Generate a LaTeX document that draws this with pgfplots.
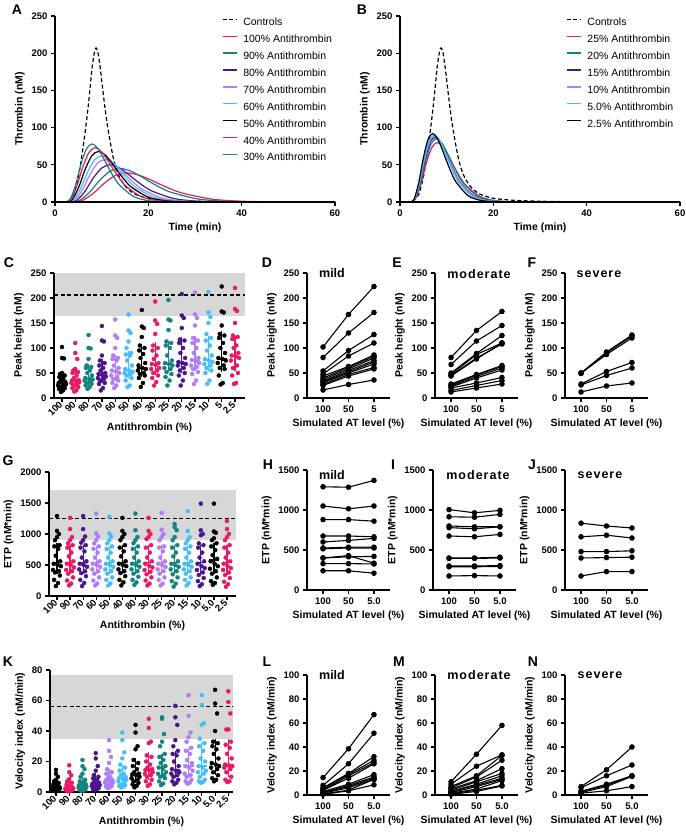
\documentclass[border=0pt]{standalone}
\usepackage{fontspec}
\setmainfont{Liberation Sans}
\newfontfamily\spaced[LetterSpace=8]{Liberation Sans}
\usepackage{pgfplots}
\usepackage{pgfplotstable}
\pgfplotsset{compat=1.18}

\definecolor{atpink}{RGB}{232,25,100}
\definecolor{atteal}{RGB}{20,130,125}
\definecolor{atpurple}{RGB}{75,20,140}
\definecolor{atlav}{RGB}{175,125,245}
\definecolor{atblue}{RGB}{70,190,245}
\definecolor{shade}{RGB}{215,215,215}

% column colours, C and K panels
\colorlet{cc0}{black}\colorlet{cc1}{atpink}\colorlet{cc2}{atteal}\colorlet{cc3}{atpurple}
\colorlet{cc4}{atlav}\colorlet{cc5}{atblue}\colorlet{cc6}{black}\colorlet{cc7}{atpink}
\colorlet{cc8}{atteal}\colorlet{cc9}{atpurple}\colorlet{cc10}{atlav}\colorlet{cc11}{atblue}
\colorlet{cc12}{black}\colorlet{cc13}{atpink}
% column colours, G panel
\colorlet{cg0}{black}\colorlet{cg1}{atpink}\colorlet{cg2}{atpurple}\colorlet{cg3}{atlav}
\colorlet{cg4}{atblue}\colorlet{cg5}{black}\colorlet{cg6}{atteal}\colorlet{cg7}{atpink}
\colorlet{cg8}{atlav}\colorlet{cg9}{atteal}\colorlet{cg10}{atblue}\colorlet{cg11}{atpurple}
\colorlet{cg12}{black}\colorlet{cg13}{atpink}

% ---- scatter data: one row per AT level, d = horizontal spread ----
\pgfplotstableread{
c p1 p2 p3 p4 p5 p6 p7 p8 p9 p10 p11 p12 p13 p14 p15 p16 p17 p18 p19 p20
d 0 0 0.15 0 -0.15 0.2 -0.2 0.1 -0.1 0.25 -0.25 0.05 0.3 -0.3 0.15 -0.15 0.22 -0.22 0.08 -0.08
k0 102 80 79 50 48 45 42 38 35 32 30 29 28 25 24 22 20 18 15 12
k1 110 90 78 58 55 52 50 45 40 36 35 34 32 30 28 26 22 20 15 13
k2 126 100 99 78 65 62 60 55 50 45 40 38 37 35 32 30 28 25 22 18
k3 144 115 113 85 75 70 65 60 55 50 48 45 43 40 38 35 30 28 20 15
k4 157 125 120 100 85 80 78 75 65 60 55 53 50 45 42 38 35 30 25 20
k5 167 135 130 113 100 90 87 85 75 65 58 55 52 50 48 45 40 35 25 22
k6 176 143 140 122 105 100 95 88 80 70 65 60 58 55 50 48 45 40 30 22
k7 193 155 148 128 105 100 95 85 78 70 68 66 60 58 55 50 45 40 32 25
k8 196 157 155 136 113 110 105 100 85 75 70 68 65 60 58 52 48 42 35 25
k9 208 165 160 140 117 115 110 100 90 80 72 70 68 65 60 55 50 45 35 25
k10 211 167 160 145 120 115 110 100 90 80 76 74 70 65 62 58 52 48 35 28
k11 212 171 162 150 128 120 115 105 95 85 78 75 72 68 65 60 55 50 35 28
k12 223 173 171 145 128 125 120 110 100 90 80 78 75 70 65 60 58 45 30 27
k13 220 178 174 150 125 122 118 105 100 90 85 83 80 75 65 60 50 45 30 28
}\rawC
\pgfplotstabletranspose[colnames from=c]{\tC}{\rawC}

\pgfplotstableread{
c p1 p2 p3 p4 p5 p6 p7 p8 p9 p10 p11 p12 p13 p14 p15 p16 p17 p18 p19 p20
d 0 0 0.15 0 -0.15 0.2 -0.2 0.1 -0.1 0.25 -0.25 0.05 0.3 -0.3 0.15 -0.15 0.22 -0.22 0.08 -0.08
k0 1290 1050 1000 950 900 820 800 760 650 560 520 500 480 420 400 380 330 260 210 160
k1 1260 1080 950 900 850 820 780 700 640 560 520 500 460 420 400 360 300 250 200 170
k2 1290 1080 960 900 860 820 780 720 620 560 520 500 470 430 400 370 320 260 210 160
k3 1330 1010 960 900 850 800 760 700 620 560 520 500 470 430 400 360 300 250 200 170
k4 1280 1010 960 900 850 800 760 700 620 560 520 500 470 430 400 360 300 260 200 170
k5 1260 1050 1000 950 900 820 780 720 640 560 520 500 480 430 400 370 320 260 220 170
k6 1330 1060 950 900 850 800 760 700 620 560 520 500 470 430 400 360 310 260 220 180
k7 1260 1050 1000 950 920 820 780 700 620 560 520 490 460 420 390 350 300 250 200 170
k8 1340 1070 1000 950 900 800 780 720 620 560 520 500 470 430 400 360 300 260 200 170
k9 1160 1110 1060 950 900 820 780 700 640 560 520 500 470 430 400 350 300 240 200 150
k10 1370 1050 950 900 850 800 760 700 620 560 520 500 470 430 400 360 300 260 210 170
k11 1490 1060 1000 980 850 820 780 700 620 560 520 480 450 420 380 340 290 240 190 160
k12 1490 1040 1020 930 900 850 800 740 660 600 560 520 480 440 400 360 300 240 210 180
k13 1210 1080 1000 950 900 820 780 700 620 560 520 480 450 420 380 340 290 230 190 150
}\rawG
\pgfplotstabletranspose[colnames from=c]{\tG}{\rawG}

\pgfplotstableread{
c p1 p2 p3 p4 p5 p6 p7 p8 p9 p10 p11 p12 p13 p14 p15 p16 p17 p18 p19 p20
d 0 0 0.15 0 -0.15 0.2 -0.2 0.1 -0.1 0.25 -0.25 0.05 0.3 -0.3 0.15 -0.15 0.22 -0.22 0.08 -0.08
k0 14.5 12 10 8 7 6 5 4.5 4 3.5 3 2.8 2.5 2 1.8 1.5 1.2 1 0.8 0.5
k1 17.5 13 11 8.5 7 6 5 4 3.5 3 2.8 2.5 2.2 2 1.8 1.5 1.2 1 0.8 0.5
k2 21 17 15 12 10 8 7 6 5.5 5 4.5 4 3.5 3 2.5 2 1.8 1.5 1 0.8
k3 25.5 22 17 14 11 10 9 8 7 6 5.5 5 4.5 4 3.5 3 2.5 2 1.8 1.5
k4 34 27 23 19 15 13 12 10 9 8 7.5 7 6.5 6 5 4.5 4 3.5 3 2.5
k5 39 34 26 22 18 16 14 12 11 10 9 8.5 8 7 6 5 4.5 4 3.5 3
k6 44 39 30 28 21 19 17 15 13 12 11.5 11 10 9 8 7 6 5 4 3
k7 48 42 33 32 24 23 20 18 16 15 14.5 14 13 12 11 10 8 7 5 4
k8 49 48 38 33 30 25 23 21 19 17 16 15 13 12 11 10 9 7 5.5 4.5
k9 56.5 49 44 34 30 27 25 24 20 17 15 14 13 12 11 10 8 7 6 5
k10 63.5 50 39 36 33 29 27 25 21 19 17 16 14 12 11 10 8 7 6 5.5
k11 63.5 57 45 44 35 32 30 27 22 20 17 16 14 13 12 10 8 7 6.5 6
k12 67 58 51.5 40 33 32 30 28 25 22 19 18 17 16 15 13 11 9 8 7
k13 66 59 51.5 41 41 33 31 29 25 22 18 17.5 17 16 15 13 10 8 7 6.5
}\rawK
\pgfplotstabletranspose[colnames from=c]{\tK}{\rawK}

% median and interquartile range per AT level
\pgfplotstableread{
i med q1 q3
0 30 22 48
1 35 25 55
2 37 28 62
3 45 35 72
4 53 40 80
5 55 45 87
6 60 48 102
7 67 52 105
8 68 57 108
9 70 55 115
10 75 60 118
11 75 60 118
12 78 58 127
13 83 60 118
}\mC
\pgfplotstableread{
i med q1 q3
0 540 400 800
1 540 400 780
2 540 400 780
3 540 400 760
4 540 400 760
5 540 400 780
6 540 400 760
7 540 390 780
8 540 400 780
9 540 400 780
10 540 400 760
11 540 380 780
12 580 400 800
13 540 380 780
}\mG
\pgfplotstableread{
i med q1 q3
0 3 1.5 5
1 3 2 6
2 4.5 2.5 8
3 5.5 3.5 10.5
4 7.5 4.5 13
5 9 5.5 16
6 12 8 20
7 14.5 10 24
8 16 11 23
9 15 11 25
10 17 11 27
11 17 12 31
12 18 13 33
13 17 12 33
}\mK

% ---- paired data: one row per patient, values at 100 / 50 / 5 % ----
\pgfplotstableread{
s v0 v1 v2
s1 102 167 223
s2 81 130 171
s3 54 95 127
s4 48 84 110
s5 44 63 86
s6 40 61 83
s7 37 58 80
s8 34 55 75
s9 32 52 72
s10 30 50 68
s11 27 47 61
s12 25 44 58
s13 16 27 36
}\rawD
\pgfplotstabletranspose[colnames from=s]{\tD}{\rawD}
\pgfplotstableread{
s v0 v1 v2
s1 81 135 173
s2 67 114 145
s3 50 89 125
s4 47 87 110
s5 45 80 108
s6 44 78 110
s7 28 47 65
s8 26 46 63
s9 24 43 60
s10 22 40 56
s11 20 30 41
s12 15 25 35
s13 12 20 28
}\rawE
\pgfplotstabletranspose[colnames from=s]{\tE}{\rawE}
\pgfplotstableread{
s v0 v1 v2
s1 50 92 126
s2 49 90 124
s3 50 87 120
s4 28 53 71
s5 26 45 60
s6 12 24 30
}\rawF
\pgfplotstabletranspose[colnames from=s]{\tF}{\rawF}
\pgfplotstableread{
s v0 v1 v2
s1 1290 1285 1370
s2 1050 1015 1050
s3 880 880 860
s4 675 675 665
s5 600 620 645
s6 525 535 535
s7 515 525 525
s8 400 430 335
s9 400 415 420
s10 330 330 325
s11 240 240 210
}\rawH
\pgfplotstabletranspose[colnames from=s]{\tH}{\rawH}
\pgfplotstableread{
s v0 v1 v2
s1 1005 965 995
s2 915 910 945
s3 800 790 790
s4 780 765 790
s5 675 665 695
s6 400 400 410
s7 395 395 400
s8 300 300 305
s9 290 290 295
s10 175 180 175
}\rawI
\pgfplotstabletranspose[colnames from=s]{\tI}{\rawI}
\pgfplotstableread{
s v0 v1 v2
s1 835 800 775
s2 665 685 650
s3 480 480 490
s4 400 405 410
s5 175 230 230
}\rawJ
\pgfplotstabletranspose[colnames from=s]{\tJ}{\rawJ}
\pgfplotstableread{
s v0 v1 v2
s1 14.5 38.5 67
s2 8 26 51.5
s3 6 18 32
s4 5 17 29
s5 4 16 27
s6 4 14 26
s7 3 9 17
s8 2 8 15
s9 2 7 14
s10 1.5 6 13
s11 1 4 13
s12 0.5 3.5 8.5
}\rawL
\pgfplotstabletranspose[colnames from=s]{\tL}{\rawL}
\pgfplotstableread{
s v0 v1 v2
s1 11 34 58
s2 9 24 33.5
s3 7 16 33
s4 6 15 29
s5 5 12 22
s6 4 11 18
s7 3 9 16
s8 3 8 14
s9 2 7 13
s10 1.5 5 12
s11 1 4 8
s12 0.5 3 7.5
}\rawM
\pgfplotstabletranspose[colnames from=s]{\tM}{\rawM}
\pgfplotstableread{
s v0 v1 v2
s1 7 21 40
s2 6 16 25
s3 3 9 16
s4 3 8 16
s5 2 7 15.5
s6 1.5 3.5 7
}\rawN
\pgfplotstabletranspose[colnames from=s]{\tN}{\rawN}

\pgfplotsset{
  prism/.style={
    scale only axis, anchor=south west, axis on top,
    axis lines=left, axis line style={line width=1.2pt,-},
    tick style={line width=1.2pt, black},
    major tick length=4pt, tick align=outside,
    tick label style={font=\fontsize{9.5}{11}\selectfont\bfseries},
    label style={font=\fontsize{10.5}{12}\selectfont\bfseries},
    /pgf/number format/assume math mode=true,
    /pgf/number format/1000 sep={},
    scaled ticks=false, clip=false,
  },
  curve/.style={line width=1.2pt, smooth, tension=0.5, mark=none},
  thr/.style={prism, width=280pt, height=186pt, xmin=0, xmax=60, ymin=0, ymax=250,
    xtick={0,20,40,60}, ytick={0,50,...,250},
    xlabel={Time (min)}, ylabel={Thrombin (nM)},
    legend cell align=left,
    legend style={anchor=north west, draw=none, fill=none,
      font=\fontsize{10.5}{13}\selectfont, row sep=7.3pt, column sep=6pt,
      nodes={inner sep=0pt, text height=7.6pt, text depth=2pt,
        font=\fontsize{10.5}{13}\selectfont}},
    legend image code/.code={\draw[##1, line width=1.3pt] (0pt,3.7pt) -- (14pt,3.7pt);},
  },
  scat/.style={prism, ymin=0, xtick={0,...,13},
    xticklabel style={rotate=45, anchor=east, inner sep=1.5pt},
    xlabel={Antithrombin (\%)}},
  dots/.style={only marks, mark=*, mark size=2pt},
  iqr/.style={only marks, mark=-, mark size=5pt, mark options={line width=1.2pt},
    restrict expr to domain={\coordindex}{#1:#1},
    error bars/y dir=both, error bars/y explicit,
    error bars/error bar style={line width=1.2pt},
    error bars/error mark options={line width=1.2pt, mark size=3pt}},
  pair/.style={prism, ymin=0, xtick={0,1,2}, xlabel={Simulated AT level (\%)},
    width=83pt, xmin=-0.63, xmax=2.63},
  lp/.style={black, line width=1.1pt, mark=*, mark size=2.2pt},
  dash/.style={black, line width=1.2pt, dash pattern=on 4pt off 2.5pt},
}

\begin{document}
\begin{tikzpicture}
\path[use as bounding box] (0pt,0pt) rectangle (685pt,832pt);

% ---------------- A ----------------
\begin{axis}[thr, at={(55pt,630pt)}, legend style={at={(0.585,1.0)}}]
\addplot[curve, dash] coordinates {(0,0) (2,0) (3,2) (4,10) (5,33) (5.5,52) (6,73) (6.5,96) (7,122) (7.5,152) (8,183) (8.5,203) (8.8,207) (9.2,201) (9.7,180) (10.2,153) (10.7,127) (11.2,104) (11.8,82) (12.4,62) (13,47) (13.7,35) (14.5,26) (15.5,18) (17,11) (18.7,7) (20,5) (22,3.5) (25,2) (30,1) (35,0.5) (40,0) (60,0)};
\addlegendentry{Controls}
\addplot[curve, atpink] coordinates {(0,0) (3.2,0) (5.64,1.5) (8.08,11.0) (10.52,25.0) (12.96,35.6) (15.4,39) (17.84,36.3) (20.28,30.3) (22.72,23.2) (25.16,16.7) (27.6,11.4) (33.7,3.8) (39.8,1.1) (45.9,0.3) (52,0.1) (60,0)};
\addlegendentry{100\% Antithrombin}
\addplot[curve, atteal] coordinates {(0,0) (3,0) (5.18,1.8) (7.36,12.7) (9.54,28.9) (11.72,41.0) (13.9,45) (16.08,41.9) (18.26,34.9) (20.44,26.7) (22.62,19.3) (24.8,13.2) (30.25,4.4) (35.7,1.2) (41.15,0.3) (46.6,0.1) (60,0)};
\addlegendentry{90\% Antithrombin}
\addplot[curve, atpurple] coordinates {(0,0) (2.8,0) (4.6,2.0) (6.4,14.1) (8.2,32.1) (10,45.6) (11.8,50) (13.6,46.6) (15.4,38.8) (17.2,29.7) (19,21.4) (20.8,14.7) (25.3,4.9) (29.8,1.4) (34.3,0.4) (38.8,0.1) (60,0)};
\addlegendentry{80\% Antithrombin}
\addplot[curve, atlav] coordinates {(0,0) (2.6,0) (4.22,2.2) (5.84,16.1) (7.46,36.6) (9.08,52.0) (10.7,57) (12.32,53.1) (13.94,44.2) (15.56,33.9) (17.18,24.4) (18.8,16.7) (22.85,5.5) (26.9,1.5) (30.95,0.4) (35,0.1) (60,0)};
\addlegendentry{70\% Antithrombin}
\addplot[curve, atblue] coordinates {(0,0) (2.4,0) (3.92,2.4) (5.44,17.5) (6.96,39.8) (8.48,56.5) (10,62) (11.52,57.8) (13.04,48.1) (14.56,36.8) (16.08,26.5) (17.6,18.2) (21.4,6.0) (25.2,1.7) (29,0.4) (32.8,0.1) (60,0)};
\addlegendentry{60\% Antithrombin}
\addplot[curve, black] coordinates {(0,0) (2.2,0) (3.62,2.7) (5.04,19.2) (6.46,43.7) (7.88,62.0) (9.3,68) (10.72,63.4) (12.14,52.8) (13.56,40.4) (14.98,29.1) (16.4,19.9) (19.95,6.6) (23.5,1.8) (27.05,0.5) (30.6,0.1) (60,0)};
\addlegendentry{50\% Antithrombin}
\addplot[curve, atpink] coordinates {(0,0) (2,0) (3.32,2.8) (4.64,20.6) (5.96,46.9) (7.28,66.6) (8.6,73) (9.92,68.0) (11.24,56.6) (12.56,43.4) (13.88,31.2) (15.2,21.4) (18.5,7.1) (21.8,2.0) (25.1,0.5) (28.4,0.1) (60,0)};
\addlegendentry{40\% Antithrombin}
\addplot[curve, atteal] coordinates {(0,0) (2,0) (3.18,3.0) (4.36,22.0) (5.54,50.1) (6.72,71.1) (7.9,78) (9.08,72.7) (10.26,60.5) (11.44,46.3) (12.62,33.4) (13.8,22.9) (16.75,7.6) (19.7,2.1) (22.65,0.5) (25.6,0.2) (60,0)};
\addlegendentry{30\% Antithrombin}
\end{axis}

% ---------------- B ----------------
\begin{axis}[thr, at={(400pt,630pt)}, legend style={at={(0.582,1.0)}}]
\addplot[curve, dash] coordinates {(0,0) (2,0) (3,2) (4,10) (5,33) (5.5,52) (6,73) (6.5,96) (7,122) (7.5,152) (8,183) (8.5,203) (8.8,207) (9.2,201) (9.7,180) (10.2,153) (10.7,127) (11.2,104) (11.8,82) (12.4,62) (13,47) (13.7,35) (14.5,26) (15.5,18) (17,11) (18.7,7) (20,5) (22,3.5) (25,2) (30,1) (35,0.5) (40,0) (60,0)};
\addlegendentry{Controls}
\addplot[curve, atpink] coordinates {(0,0) (2,0) (3.2,3.1) (4.4,22.6) (5.6,51.4) (6.8,73.0) (8,80) (9.2,74.6) (10.4,62.1) (11.6,47.5) (12.8,34.2) (14,23.4) (17,7.8) (20,2.2) (23,0.6) (26,0.2) (60,0)};
\addlegendentry{25\% Antithrombin}
\addplot[curve, atteal] coordinates {(0,0) (2,0) (3.16,3.3) (4.32,24.0) (5.48,54.6) (6.64,77.5) (7.8,85) (8.96,79.2) (10.12,66.0) (11.28,50.5) (12.44,36.4) (13.6,24.9) (16.5,8.2) (19.4,2.3) (22.3,0.6) (25.2,0.1) (60,0)};
\addlegendentry{20\% Antithrombin}
\addplot[curve, atpurple] coordinates {(0,0) (2,0) (3.1,3.4) (4.2,24.5) (5.3,55.9) (6.4,79.3) (7.5,87) (8.6,81.1) (9.7,67.5) (10.8,51.7) (11.9,37.2) (13,25.5) (15.75,8.4) (18.5,2.3) (21.25,0.6) (24,0.1) (60,0)};
\addlegendentry{15\% Antithrombin}
\addplot[curve, atlav] coordinates {(0,0) (2,0) (3.06,3.5) (4.12,25.4) (5.18,57.8) (6.24,82.1) (7.3,90) (8.36,83.9) (9.42,69.8) (10.48,53.5) (11.54,38.5) (12.6,26.4) (15.25,8.7) (17.9,2.4) (20.55,0.6) (23.2,0.1) (60,0)};
\addlegendentry{10\% Antithrombin}
\addplot[curve, atblue] coordinates {(0,0) (2,0) (3.08,3.5) (4.16,25.1) (5.24,57.1) (6.32,81.2) (7.4,89) (8.48,82.9) (9.56,69.1) (10.64,52.9) (11.72,38.1) (12.8,26.1) (15.5,8.6) (18.2,2.4) (20.9,0.6) (23.6,0.1) (60,0)};
\addlegendentry{5.0\% Antithrombin}
\addplot[curve, black] coordinates {(0,0) (2,0) (3,3.6) (4,25.9) (5,59.1) (6,83.9) (7,92) (8,85.7) (9,71.4) (10,54.6) (11,39.4) (12,27.0) (14.5,8.9) (17,2.5) (19.5,0.6) (22,0.1) (60,0)};
\addlegendentry{2.5\% Antithrombin}
\end{axis}

% ---------------- C ----------------
\begin{axis}[scat, at={(54pt,434pt)}, width=191pt, height=125pt, xmin=-0.6, xmax=13.75,
  ymax=250, ytick={0,50,...,250}, ylabel={Peak height (nM)},
  xticklabels={100,90,80,70,60,50,40,30,25,20,15,10,5,2.5}]
\addplot[fill=shade, draw=none] coordinates {(-0.6,163) (13.75,163) (13.75,250) (-0.6,250)};
\addplot[dash] coordinates {(-0.6,206) (13.75,206)};
\pgfplotsinvokeforeach{0,...,13}{
  \addplot[dots, cc#1] table[x expr=#1+\thisrow{d}, y=k#1] {\tC};
  \addplot[iqr=#1, cc#1] table[x=i, y=med,
    y error plus expr=\thisrow{q3}-\thisrow{med}, y error minus expr=\thisrow{med}-\thisrow{q1}] {\mC};
}
\end{axis}

% ---------------- D E F ----------------
\begin{axis}[pair, at={(307pt,434pt)}, height=125pt, ymax=250, ytick={0,50,...,250},
  xticklabels={100,50,5}, ylabel={Peak height (nM)}]
\pgfplotsinvokeforeach{1,...,13}{\addplot[lp] table[x expr=\coordindex, y=s#1] {\tD};}
\end{axis}
\begin{axis}[pair, at={(435pt,434pt)}, height=125pt, ymax=250, ytick={0,50,...,250},
  xticklabels={100,50,5}, ylabel={Peak height (nM)}]
\pgfplotsinvokeforeach{1,...,13}{\addplot[lp] table[x expr=\coordindex, y=s#1] {\tE};}
\end{axis}
\begin{axis}[pair, at={(565pt,434pt)}, height=125pt, ymax=250, ytick={0,50,...,250},
  xticklabels={100,50,5}, ylabel={Peak height (nM)}]
\pgfplotsinvokeforeach{1,...,6}{\addplot[lp] table[x expr=\coordindex, y=s#1] {\tF};}
\end{axis}

% ---------------- G ----------------
\begin{axis}[scat, at={(49pt,236pt)}, width=187pt, height=124pt, xmin=-0.61, xmax=13.69,
  ymax=2000, ytick={0,500,...,2000}, ylabel={ETP (nM*min)},
  xticklabels={100,90,70,60,50,40,80,30,25,20,15,10,5.0,2.5}]
\addplot[fill=shade, draw=none] coordinates {(-0.61,900) (13.69,900) (13.69,1710) (-0.61,1710)};
\addplot[dash] coordinates {(-0.61,1245) (13.69,1245)};
\pgfplotsinvokeforeach{0,...,13}{
  \addplot[dots, cg#1] table[x expr=#1+\thisrow{d}, y=k#1] {\tG};
  \addplot[iqr=#1, cg#1] table[x=i, y=med,
    y error plus expr=\thisrow{q3}-\thisrow{med}, y error minus expr=\thisrow{med}-\thisrow{q1}] {\mG};
}
\end{axis}

% ---------------- H I J ----------------
\begin{axis}[pair, at={(307pt,242pt)}, height=120pt, ymax=1500, ytick={0,500,1000,1500},
  xticklabels={100,50,5.0}, ylabel={ETP (nM*min)}]
\pgfplotsinvokeforeach{1,...,11}{\addplot[lp] table[x expr=\coordindex, y=s#1] {\tH};}
\end{axis}
\begin{axis}[pair, at={(433pt,242pt)}, height=120pt, ymax=1500, ytick={0,500,1000,1500},
  xticklabels={100,50,5.0}, ylabel={ETP (nM*min)}]
\pgfplotsinvokeforeach{1,...,10}{\addplot[lp] table[x expr=\coordindex, y=s#1] {\tI};}
\end{axis}
\begin{axis}[pair, at={(565pt,242pt)}, height=120pt, ymax=1500, ytick={0,500,1000,1500},
  xticklabels={100,50,5.0}, ylabel={ETP (nM*min)}]
\pgfplotsinvokeforeach{1,...,5}{\addplot[lp] table[x expr=\coordindex, y=s#1] {\tJ};}
\end{axis}

% ---------------- K ----------------
\begin{axis}[scat, at={(50pt,40pt)}, width=183pt, height=122pt, xmin=-0.45, xmax=13.35,
  ymax=80, ytick={0,20,...,80}, ylabel={Velocity index (nM/min)},
  xticklabels={100,90,80,70,60,50,40,30,25,20,15,10,5.0,2.5}]
\addplot[fill=shade, draw=none] coordinates {(-0.45,35) (13.35,35) (13.35,77) (-0.45,77)};
\addplot[dash] coordinates {(-0.45,56) (13.35,56)};
\pgfplotsinvokeforeach{0,...,13}{
  \addplot[dots, cc#1] table[x expr=#1+\thisrow{d}, y=k#1] {\tK};
  \addplot[iqr=#1, cc#1] table[x=i, y=med,
    y error plus expr=\thisrow{q3}-\thisrow{med}, y error minus expr=\thisrow{med}-\thisrow{q1}] {\mK};
}
\end{axis}

% ---------------- L M N ----------------
\begin{axis}[pair, at={(307pt,37pt)}, height=120pt, ymax=100, ytick={0,20,...,100},
  xticklabels={100,50,5.0}, ylabel={Velocity index (nM/min)}]
\pgfplotsinvokeforeach{1,...,12}{\addplot[lp] table[x expr=\coordindex, y=s#1] {\tL};}
\end{axis}
\begin{axis}[pair, at={(435pt,37pt)}, height=120pt, ymax=100, ytick={0,20,...,100},
  xticklabels={100,50,5.0}, ylabel={Velocity index (nM/min)}]
\pgfplotsinvokeforeach{1,...,12}{\addplot[lp] table[x expr=\coordindex, y=s#1] {\tM};}
\end{axis}
\begin{axis}[pair, at={(565pt,37pt)}, height=120pt, ymax=100, ytick={0,20,...,100},
  xticklabels={100,50,5.0}, ylabel={Velocity index (nM/min)}]
\pgfplotsinvokeforeach{1,...,6}{\addplot[lp] table[x expr=\coordindex, y=s#1] {\tN};}
\end{axis}

% titles and panel letters
\tikzset{ttl/.style={font=\fontsize{12.5}{14}\selectfont\bfseries},
  sttl/.style={font=\spaced\fontsize{12.5}{14}\selectfont\bfseries},
  lett/.style={font=\fontsize{14}{16}\selectfont\bfseries}}
\node[ttl] at (332pt,559pt) {mild};
\node[sttl] at (479pt,558pt) {moderate};
\node[sttl] at (599pt,558pt) {severe};
\node[ttl] at (332pt,357pt) {mild};
\node[sttl] at (478pt,357pt) {moderate};
\node[sttl] at (600pt,357pt) {severe};
\node[ttl] at (332pt,157pt) {mild};
\node[sttl] at (479pt,157pt) {moderate};
\node[sttl] at (600pt,157pt) {severe};

\node[lett] at (17pt,822pt) {A};
\node[lett] at (362pt,822pt) {B};
\node[lett] at (9pt,569pt) {C};
\node[lett] at (267pt,569pt) {D};
\node[lett] at (397pt,569pt) {E};
\node[lett] at (532pt,569pt) {F};
\node[lett] at (8pt,371pt) {G};
\node[lett] at (268pt,367pt) {H};
\node[lett] at (393pt,367pt) {I};
\node[lett] at (532pt,367pt) {J};
\node[lett] at (8pt,170pt) {K};
\node[lett] at (267pt,170pt) {L};
\node[lett] at (399pt,170pt) {M};
\node[lett] at (533pt,170pt) {N};
\end{tikzpicture}
\end{document}
